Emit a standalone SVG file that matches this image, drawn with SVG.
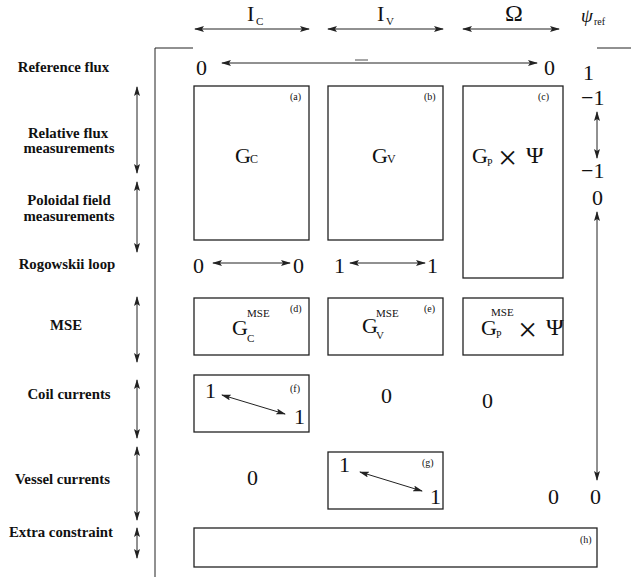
<svg xmlns="http://www.w3.org/2000/svg" width="631" height="585" viewBox="0 0 631 585">
<style>
text{font-family:"Liberation Serif","Times New Roman",serif;fill:#111}
.lbl{font-size:14.8px;font-weight:bold;text-anchor:middle}
.num{font-size:22px}
.big{font-size:22px}
.tag{font-size:10px}
.sub{font-size:11px}
.box{fill:none;stroke:#222;stroke-width:1.3}
.ln{fill:none;stroke:#222;stroke-width:1}
.arr{fill:none;stroke:#222;stroke-width:1;marker-start:url(#ah);marker-end:url(#ah)}
</style>
<defs>
<marker id="ah" viewBox="0 0 10 6" refX="9" refY="3" markerWidth="10" markerHeight="6" markerUnits="userSpaceOnUse" orient="auto-start-reverse">
<path d="M0,0 L10,3 L0,6 L2,3 z" fill="#222"/>
</marker>
</defs>
<rect width="631" height="585" fill="#fff"/>

<g id="headers">
<text class="big" x="247" y="21">I</text><text class="sub" x="256" y="25">C</text>
<text class="big" x="377" y="21">I</text><text class="sub" x="386" y="25">V</text>
<text x="505" y="21" style="font-size:24px">Ω</text>
<text x="581" y="22" style="font-size:19px;font-style:italic">ψ</text><text x="594" y="25" style="font-size:10px">ref</text>
</g>

<g id="labels">
<text class="lbl" x="63.5" y="72">Reference flux</text>
<text class="lbl" x="68" y="138">Relative flux</text>
<text class="lbl" x="69" y="153">measurements</text>
<text class="lbl" x="69" y="205">Poloidal field</text>
<text class="lbl" x="69" y="221">measurements</text>
<text class="lbl" x="67" y="269">Rogowskii loop</text>
<text class="lbl" x="66" y="330">MSE</text>
<text class="lbl" x="69" y="399">Coil currents</text>
<text class="lbl" x="62.5" y="484">Vessel currents</text>
<text class="lbl" x="61" y="537">Extra constraint</text>
</g>

<g id="frame">
<polyline class="ln" points="193,48 155,48 155,577"/>
<line class="ln" x1="597" y1="48" x2="631" y2="48"/>
</g>

<g id="box-a">
<rect class="box" x="194" y="86" width="115" height="154"/>
<text class="tag" x="290" y="100">(a)</text>
<text class="big" x="235" y="163">G</text><text x="250" y="163" style="font-size:12px">C</text>
</g>
<g id="box-b">
<rect class="box" x="328" y="86" width="115" height="154"/>
<text class="tag" x="424" y="100">(b)</text>
<text class="big" x="372" y="163">G</text><text x="387" y="163" style="font-size:12px">V</text>
</g>
<g id="box-c">
<rect class="box" x="463" y="86" width="100" height="192"/>
<text class="tag" x="538" y="100">(c)</text>
<text class="big" x="472" y="163">G</text><text x="487" y="166" style="font-size:10px">P</text>
<text x="498" y="169" style="font-size:34px;font-weight:100">×</text>
<text x="526" y="163" style="font-size:24px">Ψ</text>
</g>
<g id="box-d">
<rect class="box" x="194" y="298" width="115" height="57"/>
<text class="tag" x="290" y="312">(d)</text>
<text class="big" x="232" y="335">G</text><text class="sub" x="247" y="317">MSE</text><text class="sub" x="247" y="342">C</text>
</g>
<g id="box-e">
<rect class="box" x="328" y="298" width="115" height="57"/>
<text class="tag" x="424" y="312">(e)</text>
<text class="big" x="362" y="333">G</text><text class="sub" x="376" y="317">MSE</text><text class="sub" x="376" y="339">V</text>
</g>
<g id="box-c2">
<rect class="box" x="463" y="298" width="100" height="57"/>
<text class="big" x="481" y="335">G</text><text class="sub" x="491" y="316">MSE</text><text x="496" y="338" style="font-size:10px">P</text>
<text x="518" y="341" style="font-size:34px;font-weight:100">×</text>
<text x="546" y="335" style="font-size:24px">Ψ</text>
</g>
<g id="box-f">
<rect class="box" x="194" y="375" width="115" height="57"/>
<text class="tag" x="290" y="392">(f)</text>
<text class="num" x="205" y="398">1</text>
<text class="num" x="294" y="424">1</text>
</g>
<g id="box-g">
<rect class="box" x="328" y="452" width="115" height="57"/>
<text class="tag" x="422" y="466">(g)</text>
<text class="num" x="339" y="472">1</text>
<text class="num" x="430" y="504">1</text>
</g>
<g id="box-h">
<rect class="box" x="194" y="528" width="403" height="39"/>
<text class="tag" x="580" y="543">(h)</text>
</g>

<g id="values">
<text class="num" x="196" y="75">0</text>
<text class="num" x="544" y="75">0</text>
<text class="num" x="583" y="80">1</text>
<text class="num" x="581" y="105">−1</text>
<text class="num" x="581" y="178">−1</text>
<text class="num" x="592" y="205">0</text>
<text class="num" x="193" y="273">0</text>
<text class="num" x="293" y="273">0</text>
<text class="num" x="334" y="273">1</text>
<text class="num" x="427" y="273">1</text>
<text class="num" x="381" y="403">0</text>
<text class="num" x="482" y="408">0</text>
<text class="num" x="247" y="485">0</text>
<text class="num" x="548" y="504">0</text>
<text class="num" x="590" y="504">0</text>
</g>

<g id="connectors">
<line class="arr" x1="195" y1="29" x2="309" y2="29"/>
<line class="arr" x1="328" y1="29" x2="443" y2="29"/>
<line class="arr" x1="463" y1="29" x2="559" y2="29"/>
<line class="arr" x1="222" y1="63" x2="537" y2="63"/>
<line class="ln" x1="355" y1="60" x2="368" y2="60" style="stroke-width:0.8"/>
<line class="arr" x1="213" y1="263" x2="290" y2="263"/>
<line class="arr" x1="350" y1="263" x2="425" y2="263"/>
<line class="arr" x1="222" y1="395" x2="285" y2="414"/>
<line class="arr" x1="360" y1="472" x2="422" y2="491"/>
<line class="arr" x1="597" y1="112" x2="597" y2="158"/>
<line class="arr" x1="597" y1="212" x2="597" y2="480"/>
<line class="arr" x1="137" y1="87" x2="137" y2="173"/>
<line class="arr" x1="137" y1="182" x2="137" y2="252"/>
<line class="arr" x1="137" y1="297" x2="137" y2="362"/>
<line class="arr" x1="137" y1="380" x2="137" y2="438"/>
<line class="arr" x1="137" y1="447" x2="137" y2="520"/>
<line class="arr" x1="137" y1="528" x2="137" y2="558"/>
</g>
</svg>
